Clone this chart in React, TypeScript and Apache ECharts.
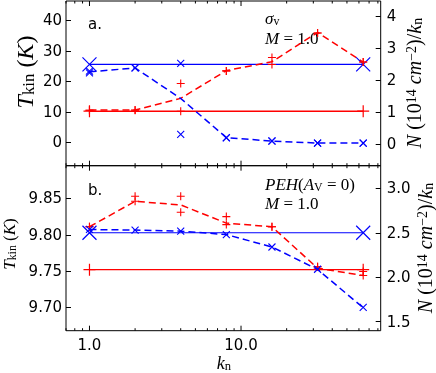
import React, { useEffect, useRef } from 'react';
import * as echarts from 'echarts';

// ---------------- data ----------------
const K = [1, 2, 4, 8, 16, 32, 64];
const K_ENDS = [1, 64];

// panel a (sigma_v)
const A_TKIN_MEAN = [10.6, 10.6, 14.4, 23.5, 26.4, 36.0, 26.3];
const A_TKIN_RUN1 = [10.5, 10.5, 19.3, 23.4, 27.8, 35.8, 26.3];
const A_TKIN_RUN2 = [10.5, 10.6, 10.2, 23.4, 25.5, 35.8, 26.3];
const A_TKIN_CONST = [10.2, 10.2];
const A_N_MEAN = [2.26, 2.38, 1.43, 0.21, 0.1, 0.04, 0.04];
const A_N_RUN1 = [2.23, 2.38, 2.52, 0.21, 0.1, 0.04, 0.04];
const A_N_RUN2 = [2.28, 2.38, 0.31, 0.2, 0.11, 0.04, 0.04];
const A_N_CONST = [2.49, 2.49];

// panel b (PEH)
const B_TKIN_MEAN = [9.811, 9.846, 9.841, 9.816, 9.811, 9.754, 9.744];
const B_TKIN_RUN1 = [9.811, 9.853, 9.853, 9.825, 9.811, 9.756, 9.7495];
const B_TKIN_RUN2 = [9.811, 9.846, 9.831, 9.814, 9.811, 9.756, 9.744];
const B_TKIN_CONST = [9.752, 9.752];
const B_N_MEAN = [2.537, 2.53, 2.518, 2.48, 2.34, 2.088, 1.657];
const B_N_RUN = [2.537, 2.53, 2.518, 2.48, 2.34, 2.09, 1.66];
const B_N_CONST = [2.5, 2.5];

// ticks
const X_MAJOR = [1, 10];
const X_MINOR = [0.7, 0.8, 0.9, 2, 3, 4, 5, 6, 7, 8, 9, 20, 30, 40, 50, 60, 70, 80];
const A_LEFT_TICKS = [0, 10, 20, 30, 40];
const A_RIGHT_TICKS = [0, 1, 2, 3, 4];
const B_LEFT_TICKS = [9.7, 9.75, 9.8, 9.85];
const B_RIGHT_TICKS = [1.5, 2.0, 2.5, 3.0];

// ---------------- styling ----------------
const RED = '#ff0000';
const BLUE = '#0000ff';
const SANS = "'DejaVu Sans', sans-serif";
const SERIF = "'Liberation Serif', 'DejaVu Serif', serif";
const PLUS = 'path://M0,5L10,5M5,0L5,10';
const CROSS = 'path://M0,0L10,10M0,10L10,0';

const pairs = (xs: number[], ys: number[]) => xs.map((x, i) => [x, ys[i]]);

function mathRich(F: number) {
  return {
    i: { fontFamily: SERIF, fontStyle: 'italic', fontSize: F, lineHeight: F, fill: '#000' },
    n: { fontFamily: SERIF, fontSize: F, lineHeight: F, fill: '#000' },
    sub: { fontFamily: SERIF, fontSize: F * 0.7, lineHeight: F * 0.42, verticalAlign: 'bottom', fill: '#000' },
    sup: { fontFamily: SERIF, fontSize: F * 0.7, lineHeight: F * 0.32, verticalAlign: 'top', fill: '#000' },
  };
}

function lineSeries(x: number, y: number, data: number[][], color: string, opts: any) {
  return {
    type: 'line',
    xAxisIndex: x,
    yAxisIndex: y,
    data,
    z: opts.z || 3,
    symbol: opts.symbol || 'none',
    symbolSize: opts.symbolSize || 0,
    showSymbol: !!opts.symbol,
    lineStyle: { color, width: opts.width || 1.5, type: opts.dash ? [7, 4] : 'solid' },
    itemStyle: { color: 'rgba(0,0,0,0)', borderColor: color, borderWidth: 1.2 },
    silent: true,
  };
}

function scatterSeries(x: number, y: number, data: number[][], color: string, symbol: string, size: number) {
  return {
    type: 'scatter',
    xAxisIndex: x,
    yAxisIndex: y,
    data,
    symbol,
    symbolSize: size,
    z: 4,
    itemStyle: { color: 'rgba(0,0,0,0)', borderColor: color, borderWidth: 1.1, opacity: 1 },
    silent: true,
  };
}

function tickSeries(x: number, y: number) {
  return {
    type: 'custom',
    xAxisIndex: x,
    yAxisIndex: y,
    silent: true,
    clip: false,
    z: 10,
    data: [...X_MAJOR.map((v) => [v, 1]), ...X_MINOR.map((v) => [v, 0])],
    renderItem: (params: any, api: any) => {
      const cs = params.coordSys;
      const px = api.coord([api.value(0), api.value(1)])[0];
      const len = api.value(1) ? 5 : 2.5;
      const st = { stroke: '#000', lineWidth: 1 };
      return {
        type: 'group',
        children: [
          { type: 'line', shape: { x1: px, y1: cs.y + cs.height, x2: px, y2: cs.y + cs.height - len }, style: st },
          { type: 'line', shape: { x1: px, y1: cs.y, x2: px, y2: cs.y + len }, style: st },
        ],
      };
    },
  };
}

function yAxis(gridIndex: number, min: number, max: number, position: string, ticks: number[], digits: number) {
  return {
    type: 'value',
    gridIndex,
    min,
    max,
    position,
    axisLine: { show: false },
    splitLine: { show: false },
    axisTick: { show: true, inside: true, length: 5, customValues: ticks, lineStyle: { color: '#000', width: 1 } },
    axisLabel: {
      show: true,
      customValues: ticks,
      formatter: (v: number) => v.toFixed(digits),
      color: '#000',
      fontFamily: SANS,
      fontSize: 15,
      margin: position === 'left' ? 4 : 6,
    },
  };
}

function xAxis(gridIndex: number, labels: boolean) {
  return {
    type: 'log',
    logBase: 10,
    gridIndex,
    min: 0.7,
    max: 83.5,
    axisLine: { show: false },
    axisTick: { show: false },
    splitLine: { show: false },
    axisLabel: {
      show: labels,
      customValues: X_MAJOR,
      formatter: (v: number) => {
        const l = Math.log10(v);
        return Math.abs(l - Math.round(l)) < 1e-6 ? v.toFixed(1) : '';
      },
      color: '#000',
      fontFamily: SANS,
      fontSize: 15,
      margin: 7,
    },
  };
}

function rotText(x: number, y: number, text: string, F: number) {
  return {
    type: 'text',
    x,
    y,
    rotation: Math.PI / 2,
    style: { text, rich: mathRich(F), align: 'center', verticalAlign: 'middle' },
  };
}

function plainText(x: number, y: number, text: string, F: number, align = 'left') {
  return {
    type: 'text',
    x,
    y,
    style: { text, rich: mathRich(F), align, verticalAlign: 'middle' },
  };
}

export default function App() {
  const ref = useRef<HTMLDivElement>(null);
  useEffect(() => {
    if (!ref.current) return;
    const chart = echarts.init(ref.current, undefined, { renderer: 'svg' });
    const gridBase = { left: 66, width: 314.7, show: true, borderColor: '#000', borderWidth: 1, backgroundColor: 'rgba(0,0,0,0)' };
    const NTITLE = '{i|N}{n| (10}{sup|14}{n| }{i|cm}{sup|−2}{n|)/}{i|k}{sub|n}';
    const TTITLE = '{i|T}{sub|kin}{n| (}{i|K}{n|)}';
    chart.setOption({
      animation: false,
      grid: [
        { ...gridBase, top: 1, height: 164.7 },
        { ...gridBase, top: 165.7, height: 165 },
      ],
      xAxis: [xAxis(0, false), xAxis(1, true)],
      yAxis: [
        yAxis(0, -7.65, 46.3, 'left', A_LEFT_TICKS, 0),
        yAxis(0, -0.666, 4.467, 'right', A_RIGHT_TICKS, 0),
        yAxis(1, 9.668, 9.895, 'left', B_LEFT_TICKS, 2),
        yAxis(1, 1.399, 3.254, 'right', B_RIGHT_TICKS, 1),
      ],
      series: [
        // panel a
        lineSeries(0, 0, pairs(K_ENDS, A_TKIN_CONST), RED, { symbol: PLUS, symbolSize: 12, width: 1.6 }),
        lineSeries(0, 1, pairs(K_ENDS, A_N_CONST), BLUE, { symbol: CROSS, symbolSize: 14, width: 1.3 }),
        lineSeries(0, 0, pairs(K, A_TKIN_MEAN), RED, { dash: true }),
        lineSeries(0, 1, pairs(K, A_N_MEAN), BLUE, { dash: true }),
        scatterSeries(0, 0, pairs(K, A_TKIN_RUN1), RED, PLUS, 8),
        scatterSeries(0, 0, pairs(K, A_TKIN_RUN2), RED, PLUS, 8),
        scatterSeries(0, 1, pairs(K, A_N_RUN1), BLUE, CROSS, 7),
        scatterSeries(0, 1, pairs(K, A_N_RUN2), BLUE, CROSS, 7),
        tickSeries(0, 0),
        // panel b
        lineSeries(1, 2, pairs(K_ENDS, B_TKIN_CONST), RED, { symbol: PLUS, symbolSize: 12, width: 1.1 }),
        lineSeries(1, 3, pairs(K_ENDS, B_N_CONST), BLUE, { symbol: CROSS, symbolSize: 14, width: 1.2 }),
        lineSeries(1, 2, pairs(K, B_TKIN_MEAN), RED, { dash: true }),
        lineSeries(1, 3, pairs(K, B_N_MEAN), BLUE, { dash: true }),
        scatterSeries(1, 2, pairs(K, B_TKIN_RUN1), RED, PLUS, 8),
        scatterSeries(1, 2, pairs(K, B_TKIN_RUN2), RED, PLUS, 8),
        scatterSeries(1, 3, pairs(K, B_N_RUN), BLUE, CROSS, 7),
        tickSeries(1, 2),
      ],
      graphic: [
        { type: 'text', x: 88, y: 24, style: { text: 'a.', fontFamily: SANS, fontSize: 15, fill: '#000', verticalAlign: 'middle' } },
        { type: 'text', x: 88, y: 190, style: { text: 'b.', fontFamily: SANS, fontSize: 15, fill: '#000', verticalAlign: 'middle' } },
        plainText(265, 18, '{i|σ}{sub|v}', 17),
        plainText(265, 38, '{i|M}{n| = 1.0}', 17),
        plainText(265, 184, '{i|PEH}{n|(}{i|A}{sub|V}{n| = 0)}', 17),
        plainText(265, 203, '{i|M}{n| = 1.0}', 17),
        plainText(224, 363, '{i|k}{sub|n}', 18, 'center'),
        rotText(25, 72, TTITLE, 24),
        rotText(9, 244, TTITLE, 17),
        rotText(414, 83, NTITLE, 20),
        rotText(425, 248, NTITLE, 20),
      ],
    });
    return () => chart.dispose();
  }, []);
  return <div ref={ref} style={{ position: 'fixed', left: 0, top: 0, width: 436, height: 373 }} />;
}
